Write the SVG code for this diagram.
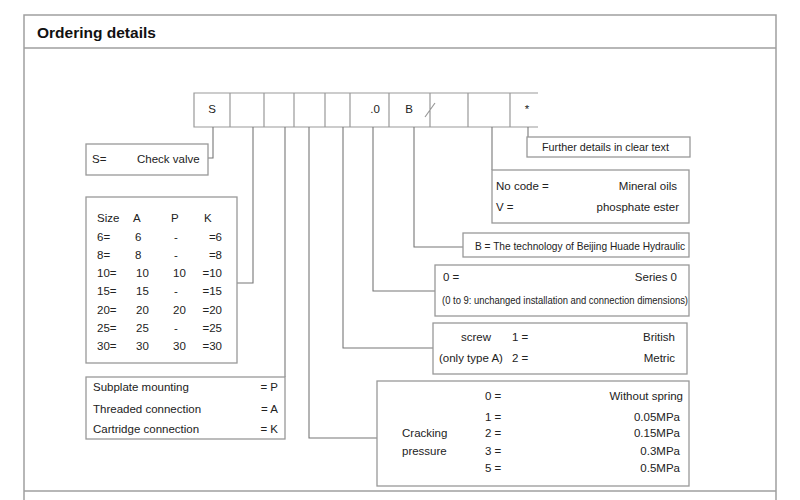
<svg xmlns="http://www.w3.org/2000/svg" width="800" height="500" viewBox="0 0 800 500">
<style>
.frame{fill:none;stroke:#a0a0a0;stroke-width:1.5}
.box{fill:#fff;stroke:#999;stroke-width:1.3}
.ln{fill:none;stroke:#777;stroke-width:1.1}
text{font-family:"Liberation Sans",Arial,sans-serif;font-size:11.5px;fill:#222}
.t{font-size:15.5px;font-weight:bold;fill:#111}
.r{text-anchor:end}
.m{text-anchor:middle}
</style>
<rect width="800" height="500" fill="#fff"/>
<g id="frame">
<path class="frame" d="M24,500 V15 H776 V500 M24,48 H776 M24,491 H776"/>
<text class="t" x="37" y="38">Ordering details</text>
</g>
<g id="code">
<path class="ln" d="M538,93 H194 V127 H538 M230,93 V127 M264,93 V127 M294,93 V127 M325,93 V127 M350,93 V127 M389,93 V127 M430,93 V127 M468,93 V127 M510,93 V127 M425,117 L435,103" style="stroke:#999;stroke-width:1.2"/>
<text class="m" x="212" y="113">S</text>
<text class="m" x="375" y="113">.0</text>
<text class="m" x="409" y="113">B</text>
<text class="m" x="527" y="113">*</text>
</g>
<g id="connectors">
<path class="ln" d="M213,127 V158 H208"/>
<path class="ln" d="M253,127 V283 H237"/>
<path class="ln" d="M285,127 V377"/>
<path class="ln" d="M309,127 V438 H377"/>
<path class="ln" d="M343,127 V348 H433"/>
<path class="ln" d="M373,127 V291 H435"/>
<path class="ln" d="M414,127 V247 H463"/>
<path class="ln" d="M492,127 V170"/>
<path class="ln" d="M528,127 V137"/>
</g>
<g id="n-check">
<rect class="box" x="86" y="144" width="122" height="31"/>
<text x="92" y="163">S=</text>
<text x="137" y="163">Check valve</text>
</g>
<g id="n-size">
<rect class="box" x="86" y="197" width="151" height="166"/>
<text x="97" y="222">Size</text><text x="133" y="222">A</text><text x="171" y="222">P</text><text x="204" y="222">K</text>
<text x="97" y="241">6=</text><text x="135" y="241">6</text><text class="m" x="176" y="241">-</text><text class="r" x="222" y="241">=6</text>
<text x="97" y="259">8=</text><text x="135" y="259">8</text><text class="m" x="176" y="259">-</text><text class="r" x="222" y="259">=8</text>
<text x="97" y="277">10=</text><text x="136" y="277">10</text><text x="173" y="277">10</text><text class="r" x="222" y="277">=10</text>
<text x="97" y="295">15=</text><text x="136" y="295">15</text><text class="m" x="176" y="295">-</text><text class="r" x="222" y="295">=15</text>
<text x="97" y="314">20=</text><text x="136" y="314">20</text><text x="173" y="314">20</text><text class="r" x="222" y="314">=20</text>
<text x="97" y="332">25=</text><text x="136" y="332">25</text><text class="m" x="176" y="332">-</text><text class="r" x="222" y="332">=25</text>
<text x="97" y="350">30=</text><text x="136" y="350">30</text><text x="173" y="350">30</text><text class="r" x="222" y="350">=30</text>
</g>
<g id="n-mount">
<rect class="box" x="86" y="377" width="199" height="62"/>
<text x="93" y="391">Subplate mounting</text><text class="r" x="278" y="391">= P</text>
<text x="93" y="413">Threaded connection</text><text class="r" x="278" y="413">= A</text>
<text x="93" y="433">Cartridge connection</text><text class="r" x="278" y="433">= K</text>
</g>
<g id="n-cracking">
<rect class="box" x="377" y="381" width="312" height="105"/>
<text x="402" y="437">Cracking</text>
<text x="402" y="455">pressure</text>
<text x="485" y="400">0 =</text><text class="r" x="683" y="400">Without spring</text>
<text x="485" y="421">1 =</text><text class="r" x="680" y="421">0.05MPa</text>
<text x="485" y="437">2 =</text><text class="r" x="680" y="437">0.15MPa</text>
<text x="485" y="455">3 =</text><text class="r" x="680" y="455">0.3MPa</text>
<text x="485" y="472">5 =</text><text class="r" x="680" y="472">0.5MPa</text>
</g>
<g id="n-screw">
<rect class="box" x="433" y="323" width="254" height="51"/>
<text x="461" y="341">screw</text><text x="512" y="341">1 =</text><text class="r" x="675" y="341">British</text>
<text x="439" y="362">(only type A)</text><text x="512" y="362">2 =</text><text class="r" x="675" y="362">Metric</text>
</g>
<g id="n-series">
<rect class="box" x="435" y="265" width="254" height="51"/>
<text x="443" y="281">0 =</text><text class="r" x="677" y="281">Series 0</text>
<text x="442" y="304" style="font-size:10.5px" textLength="246" lengthAdjust="spacingAndGlyphs">(0 to 9: unchanged installation and connection dimensions)</text>
</g>
<g id="n-tech">
<rect class="box" x="463" y="233" width="226" height="24"/>
<text x="475" y="250" style="font-size:10.5px" textLength="210" lengthAdjust="spacingAndGlyphs">B  =  The technology of Beijing Huade Hydraulic</text>
</g>
<g id="n-fluid">
<rect class="box" x="492" y="170" width="197" height="53"/>
<text x="496" y="190">No code =</text><text class="r" x="677" y="190">Mineral oils</text>
<text x="496" y="211">V =</text><text class="r" x="679" y="211">phosphate ester</text>
</g>
<g id="n-further">
<rect class="box" x="527" y="137" width="163" height="20"/>
<text x="542" y="151" textLength="127" lengthAdjust="spacingAndGlyphs">Further details in clear text</text>
</g>
</svg>
